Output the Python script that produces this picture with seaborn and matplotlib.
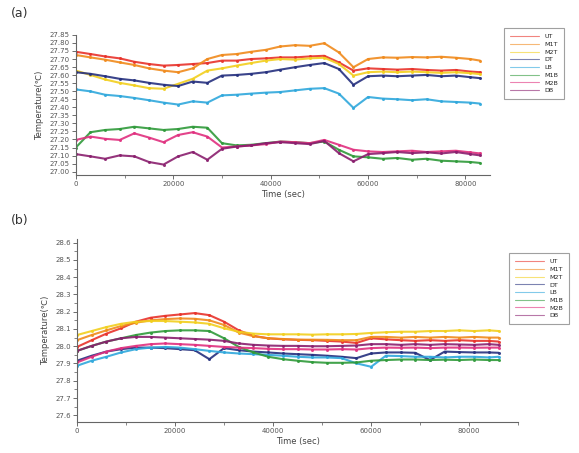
import numpy as np
import pandas as pd
import seaborn as sns
import matplotlib
matplotlib.use("Agg")
import matplotlib.pyplot as plt
from matplotlib.ticker import MultipleLocator, FormatStrFormatter

labels = ["UT", "M1T", "M2T", "DT", "LB", "M1B", "M2B", "DB"]

# ---------------- panel (a) ----------------
time_a = [0, 3000, 6000, 9000, 12000, 15000, 18000, 21000, 24000, 27000,
          30000, 33000, 36000, 39000, 42000, 45000, 48000, 51000, 54000, 57000,
          60000, 63000, 66000, 69000, 72000, 75000, 78000, 81000, 83000]
a_UT = [27.745, 27.731, 27.716, 27.704, 27.683, 27.669, 27.659, 27.663, 27.669, 27.675,
        27.690, 27.690, 27.700, 27.704, 27.710, 27.710, 27.716, 27.720, 27.679, 27.628,
        27.642, 27.638, 27.634, 27.638, 27.632, 27.628, 27.632, 27.622, 27.618]
a_M1T = [27.725, 27.710, 27.696, 27.679, 27.663, 27.642, 27.628, 27.618, 27.642, 27.700,
         27.725, 27.731, 27.745, 27.757, 27.778, 27.786, 27.782, 27.798, 27.741, 27.649,
         27.700, 27.710, 27.708, 27.712, 27.710, 27.714, 27.708, 27.700, 27.690]
a_M2T = [27.628, 27.601, 27.573, 27.552, 27.536, 27.519, 27.515, 27.546, 27.577, 27.628,
         27.642, 27.659, 27.675, 27.690, 27.700, 27.696, 27.704, 27.708, 27.669, 27.597,
         27.618, 27.622, 27.618, 27.622, 27.618, 27.614, 27.618, 27.612, 27.606]
a_DT = [27.618, 27.608, 27.593, 27.577, 27.567, 27.552, 27.540, 27.532, 27.560, 27.552,
        27.597, 27.601, 27.608, 27.618, 27.634, 27.649, 27.663, 27.675, 27.638, 27.540,
        27.593, 27.597, 27.593, 27.597, 27.601, 27.593, 27.597, 27.587, 27.581]
a_LB = [27.511, 27.499, 27.478, 27.470, 27.458, 27.444, 27.429, 27.417, 27.437, 27.429,
        27.474, 27.478, 27.485, 27.491, 27.495, 27.505, 27.515, 27.519, 27.485, 27.396,
        27.464, 27.454, 27.450, 27.444, 27.450, 27.437, 27.433, 27.429, 27.423]
a_M1B = [27.150, 27.245, 27.259, 27.265, 27.279, 27.269, 27.259, 27.265, 27.279, 27.273,
         27.177, 27.163, 27.167, 27.177, 27.187, 27.183, 27.177, 27.187, 27.136, 27.095,
         27.089, 27.080, 27.085, 27.074, 27.080, 27.068, 27.064, 27.060, 27.054]
a_M2B = [27.197, 27.218, 27.204, 27.197, 27.238, 27.212, 27.183, 27.228, 27.245, 27.218,
         27.150, 27.156, 27.163, 27.171, 27.187, 27.183, 27.177, 27.197, 27.167, 27.136,
         27.126, 27.122, 27.126, 27.130, 27.122, 27.126, 27.130, 27.120, 27.113]
a_DB = [27.109, 27.095, 27.080, 27.101, 27.095, 27.060, 27.044, 27.095, 27.122, 27.074,
        27.142, 27.156, 27.163, 27.177, 27.183, 27.177, 27.171, 27.191, 27.115, 27.064,
        27.109, 27.115, 27.122, 27.115, 27.120, 27.113, 27.122, 27.109, 27.101]

# ---------------- panel (b) ----------------
time_b = [0, 3000, 6000, 9000, 12000, 15000, 18000, 21000, 24000, 27000,
          30000, 33000, 36000, 39000, 42000, 45000, 48000, 51000, 54000, 57000,
          60000, 63000, 66000, 69000, 72000, 75000, 78000, 81000, 84000, 86000]
b_UT = [27.996, 28.035, 28.073, 28.104, 28.142, 28.165, 28.176, 28.184, 28.192, 28.180,
        28.142, 28.092, 28.060, 28.046, 28.040, 28.037, 28.035, 28.031, 28.027, 28.019,
        28.046, 28.040, 28.035, 28.031, 28.035, 28.031, 28.035, 28.031, 28.031, 28.027]
b_M1T = [28.035, 28.065, 28.092, 28.117, 28.136, 28.150, 28.157, 28.161, 28.159, 28.150,
         28.123, 28.079, 28.058, 28.046, 28.042, 28.038, 28.038, 28.037, 28.035, 28.035,
         28.054, 28.054, 28.050, 28.054, 28.050, 28.054, 28.050, 28.054, 28.050, 28.050]
b_M2T = [28.065, 28.088, 28.111, 28.130, 28.142, 28.146, 28.146, 28.142, 28.138, 28.130,
         28.104, 28.084, 28.073, 28.069, 28.069, 28.069, 28.067, 28.069, 28.069, 28.071,
         28.077, 28.081, 28.084, 28.084, 28.088, 28.088, 28.092, 28.088, 28.092, 28.088]
b_DT = [27.916, 27.945, 27.969, 27.983, 27.992, 27.992, 27.989, 27.983, 27.977, 27.925,
        27.989, 27.977, 27.969, 27.964, 27.958, 27.954, 27.950, 27.945, 27.939, 27.931,
        27.958, 27.964, 27.964, 27.962, 27.920, 27.969, 27.966, 27.964, 27.964, 27.962]
b_LB = [27.887, 27.916, 27.939, 27.964, 27.983, 27.992, 27.996, 27.992, 27.983, 27.973,
        27.964, 27.958, 27.954, 27.950, 27.945, 27.939, 27.935, 27.935, 27.931, 27.901,
        27.881, 27.945, 27.943, 27.939, 27.939, 27.935, 27.939, 27.939, 27.935, 27.939]
b_M1B = [27.973, 28.002, 28.027, 28.046, 28.065, 28.079, 28.088, 28.092, 28.092, 28.088,
         28.046, 27.996, 27.964, 27.939, 27.925, 27.916, 27.908, 27.904, 27.904, 27.906,
         27.916, 27.920, 27.923, 27.923, 27.920, 27.922, 27.920, 27.923, 27.920, 27.920]
b_M2B = [27.906, 27.939, 27.969, 27.989, 28.002, 28.012, 28.016, 28.012, 28.008, 28.002,
         27.996, 27.992, 27.989, 27.985, 27.983, 27.983, 27.981, 27.981, 27.983, 27.981,
         27.989, 27.992, 27.991, 27.992, 27.989, 27.992, 27.992, 27.991, 27.992, 27.992]
b_DB = [27.973, 28.002, 28.027, 28.046, 28.054, 28.054, 28.050, 28.046, 28.042, 28.038,
        28.031, 28.016, 28.008, 28.004, 28.002, 28.002, 28.000, 28.000, 28.002, 28.004,
        28.012, 28.012, 28.008, 28.012, 28.008, 28.012, 28.010, 28.008, 28.012, 28.008]

colors = ["#e8322a", "#f08a1c", "#f2cf1e", "#25307e", "#2fa8dc", "#2f9a3a", "#e0307f", "#8a1f6e"]

sns.set_theme(style="ticks")
plt.rcParams['font.family'] = ['DejaVu Sans']

fig = plt.figure(figsize=(5.79, 4.53), dpi=100)
ax1 = fig.add_axes([0.131, 0.614, 0.715, 0.309])
ax2 = fig.add_axes([0.133, 0.068, 0.762, 0.404])

def long_df(t, series):
    rows = []
    for lab, vals in zip(labels, series):
        for tt, v in zip(t, vals):
            rows.append((tt, v, lab))
    return pd.DataFrame(rows, columns=["time", "temp", "sensor"])

df_a = long_df(time_a, [a_UT, a_M1T, a_M2T, a_DT, a_LB, a_M1B, a_M2B, a_DB])
df_b = long_df(time_b, [b_UT, b_M1T, b_M2T, b_DT, b_LB, b_M1B, b_M2B, b_DB])

for ax, df in ((ax1, df_a), (ax2, df_b)):
    sns.lineplot(data=df, x="time", y="temp", hue="sensor", palette=colors,
                 hue_order=labels, ax=ax, linewidth=1.5, marker="o",
                 markersize=2.2, markeredgewidth=0, alpha=0.9, legend=True)
    sns.despine(ax=ax)
    ax.set_xlabel("Time (sec)", fontsize=6, color="#444444")
    ax.set_ylabel("Temperature(\u2103)", fontsize=6, color="#444444")
    ax.xaxis.set_major_locator(MultipleLocator(20000))
    ax.xaxis.set_minor_locator(MultipleLocator(10000))
    ax.tick_params(axis="both", which="major", labelsize=5, colors="#555555",
                   length=3, width=0.6, pad=1.5)
    ax.tick_params(axis="both", which="minor", length=2, width=0.5, colors="#555555")
    for s in ("left", "bottom"):
        ax.spines[s].set_color("#666666")
        ax.spines[s].set_linewidth(0.8)

ax1.set_xlim(0, 85000)
ax1.set_ylim(26.98, 27.85)
ax1.yaxis.set_major_locator(MultipleLocator(0.05))
ax1.yaxis.set_major_formatter(FormatStrFormatter("%.2f"))
ax1.xaxis.labelpad = 2

ax2.set_xlim(0, 90000)
ax2.set_ylim(27.56, 28.62)
ax2.yaxis.set_major_locator(MultipleLocator(0.1))
ax2.yaxis.set_minor_locator(MultipleLocator(0.05))
ax2.yaxis.set_major_formatter(FormatStrFormatter("%.1f"))
ax2.xaxis.labelpad = 2

for ax, anchor in ((ax1, (0.865, 0.945)), (ax2, (0.874, 0.448))):
    h, l = ax.get_legend_handles_labels()
    ax.get_legend().remove()
    leg = fig.legend(h, l, loc="upper left", bbox_to_anchor=anchor, fontsize=4.6,
                     frameon=True, fancybox=False, edgecolor="#888888",
                     handlelength=4.6, handletextpad=0.8, labelspacing=0.35,
                     borderpad=0.9, markerscale=0)
    leg.get_frame().set_linewidth(0.8)
    for line in leg.get_lines():
        line.set_linewidth(0.8)
        line.set_alpha(0.6)

fig.text(0.018, 0.962, "(a)", fontsize=9, color="#333333")
fig.text(0.018, 0.505, "(b)", fontsize=9, color="#333333")

fig.savefig("out.png", dpi=100)
